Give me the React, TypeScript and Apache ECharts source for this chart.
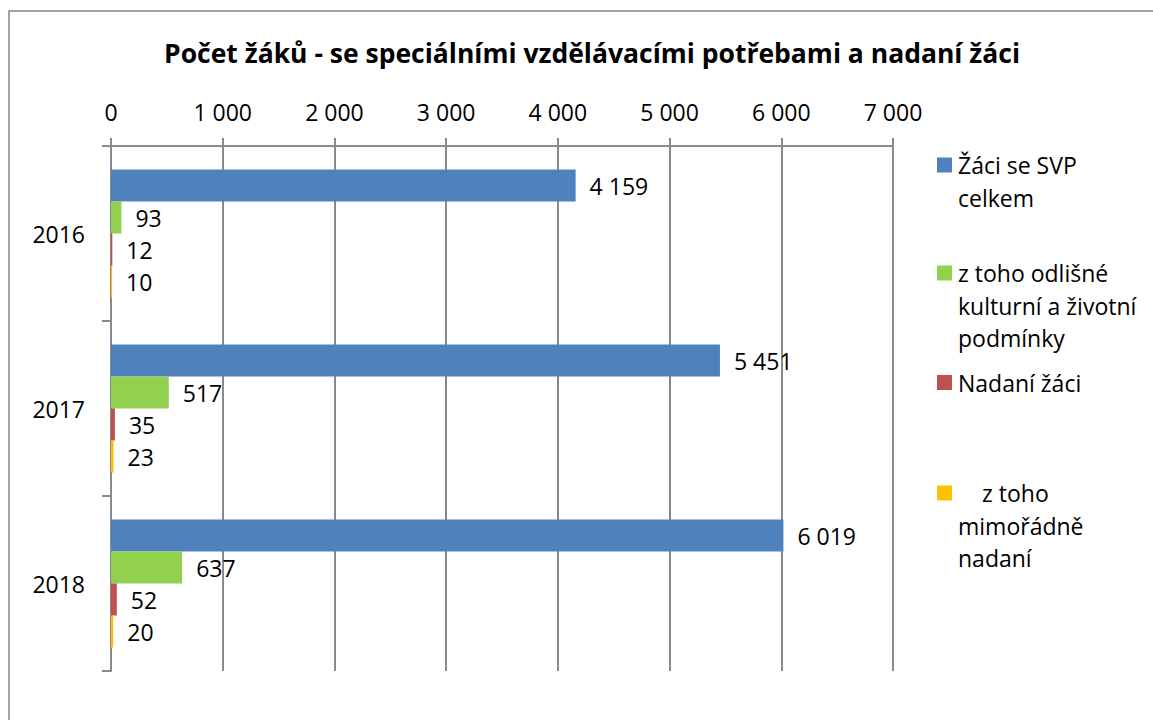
import React, { useEffect, useRef } from "react";
import * as echarts from "echarts";

const title = "Počet žáků - se speciálními vzdělávacími potřebami a nadaní žáci";
const years = ["2016", "2017", "2018"];
const seriesNames = [
  "Žáci se SVP celkem",
  "z toho odlišné kulturní a životní podmínky",
  "Nadaní žáci",
  "z toho mimořádně nadaní",
];
const legendLines = [
  ["Žáci se SVP", "celkem"],
  ["z toho odlišné", "kulturní a životní", "podmínky"],
  ["Nadaní žáci"],
  ["z toho", "mimořádně", "nadaní"],
];
const svpTotal = [4159, 5451, 6019];
const culturalConditions = [93, 517, 637];
const giftedTotal = [12, 35, 52];
const exceptionallyGifted = [10, 23, 20];
const seriesValues = [svpTotal, culturalConditions, giftedTotal, exceptionallyGifted];
const colors = ["#4F81BD", "#92D050", "#C0504D", "#FFC000"];

const FONT = "'Open Sans', 'Noto Sans', sans-serif";
const fmt = (v: number) => String(v).replace(/\B(?=(\d{3})+(?!\d))/g, " ");

export default function App() {
  const ref = useRef<HTMLDivElement>(null);
  useEffect(() => {
    if (!ref.current) return;
    const chart = echarts.init(ref.current, null, { renderer: "svg" });

    const legendFirstLineY = [165, 273, 382.5, 493];
    const legendGraphics: any[] = [];
    legendLines.forEach((lines, i) => {
      const cy = legendFirstLineY[i];
      legendGraphics.push({
        type: "rect",
        shape: { x: 937, y: cy - 7.5, width: 15, height: 15 },
        style: { fill: colors[i] },
      });
      lines.forEach((line, j) => {
        const indent = i === 3 && j === 0 ? 24 : 0;
        legendGraphics.push({
          type: "text",
          x: 958 + indent,
          y: cy + j * 32.5,
          style: {
            text: line,
            font: `23px ${FONT}`,
            fill: "#000",
            verticalAlign: "middle",
            align: "left",
          },
        });
      });
    });

    chart.setOption({
      animation: false,
      backgroundColor: "#fff",
      title: {
        text: title,
        left: 587,
        top: 34,
        textAlign: "center",
        textStyle: { fontFamily: FONT, fontWeight: "bold", fontSize: 26.5, color: "#000" },
      },
      grid: { left: 111, top: 146, width: 782, height: 525 },
      xAxis: {
        type: "value",
        position: "top",
        min: 0,
        max: 7000,
        interval: 1000,
        axisLine: { show: true, lineStyle: { color: "#8a8a8a", width: 2 } },
        axisTick: { show: true, length: 8, lineStyle: { color: "#8a8a8a", width: 2 } },
        splitLine: { show: true, lineStyle: { color: "#8a8a8a", width: 2 } },
        axisLabel: {
          formatter: (v: number) => fmt(v),
          fontFamily: FONT,
          fontSize: 23,
          color: "#000",
          margin: 23,
        },
      },
      yAxis: {
        type: "category",
        inverse: true,
        data: years,
        axisLine: { show: true, lineStyle: { color: "#8a8a8a", width: 2 } },
        axisTick: { show: true, length: 9, lineStyle: { color: "#8a8a8a", width: 2 } },
        axisLabel: { fontFamily: FONT, fontSize: 23, color: "#000", margin: 26 },
      },
      series: seriesNames.map((name, i) => ({
        name,
        type: "bar",
        data: seriesValues[i],
        barWidth: 32,
        barGap: "0%",
        itemStyle: { color: colors[i] },
        label: {
          show: true,
          position: "right",
          distance: 14,
          formatter: (p: any) => fmt(p.value),
          fontFamily: FONT,
          fontSize: 23,
          color: "#000",
        },
      })),
      graphic: [
        {
          type: "rect",
          shape: { x: 9, y: 11, width: 1170, height: 740 },
          style: { fill: "none", stroke: "#868686", lineWidth: 1.5 },
          silent: true,
        },
        ...legendGraphics,
      ],
    });
    return () => chart.dispose();
  }, []);
  return (
    <div
      ref={ref}
      style={{ position: "absolute", left: 0, top: 0, width: 1153, height: 720 }}
    />
  );
}
